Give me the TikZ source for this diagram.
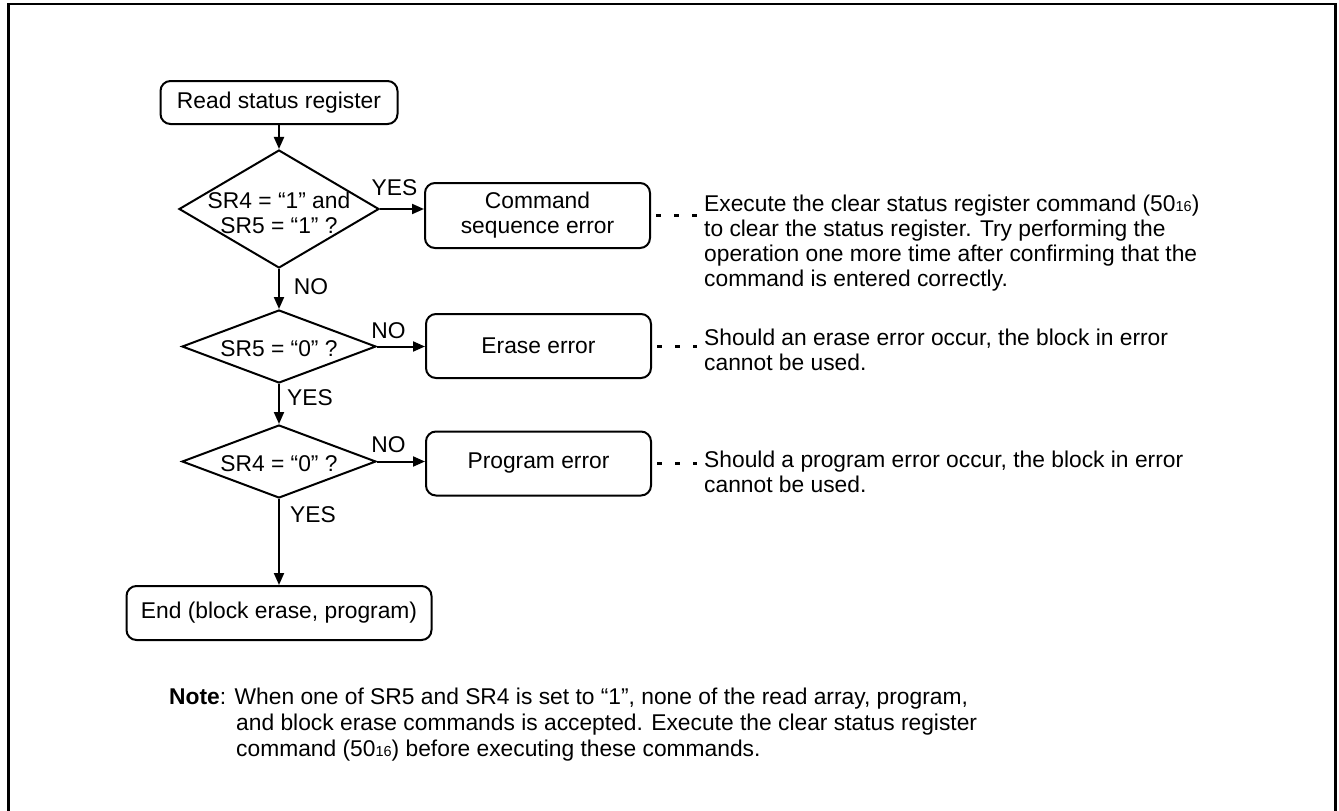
\documentclass[tikz,border=0pt]{standalone}
\usepackage{fontspec}
\setmainfont{Liberation Sans}
\usetikzlibrary{arrows.meta,shapes.geometric}
\newcommand\hexsub[1]{{\fontsize{14.5}{15}\selectfont #1}}
\begin{document}
\begin{tikzpicture}[x=1pt,y=-1pt,
  font=\fontsize{22.8}{25}\selectfont,
  box/.style={draw,line width=2pt,rounded corners=10pt,inner sep=0pt,align=center},
  dia/.style={draw,diamond,line width=2pt,inner sep=0pt},
  flow/.style={line width=2pt,-{Triangle[length=12pt,width=10pt]}},
  dotline/.style={line width=3pt,dash pattern=on 5pt off 13pt},
  lbl/.style={inner sep=0pt},
  ann/.style={inner sep=0pt,align=left,anchor=north west}]
\useasboundingbox (0,0) rectangle (1339,811);
\draw[line width=2.3pt] (8.5,811) -- (8.5,3.7) -- (1335.5,3.7) -- (1335.5,811);

% flow nodes
\node[box,minimum width=237,minimum height=43] (start) at (279,102.5) {Read status register};
\node[dia,minimum width=200,minimum height=118,
  label={[lbl,align=center,yshift=-3.5pt]center:SR4 = “1” and\\SR5 = “1” ?}] (d1) at (279,209) {};
\node[dia,minimum width=194,minimum height=73,
  label={[lbl,yshift=-2pt]center:SR5 = “0” ?}] (d2) at (279,346.5) {};
\node[dia,minimum width=194,minimum height=73,
  label={[lbl,yshift=-2pt]center:SR4 = “0” ?}] (d3) at (279,461.5) {};
\node[box,minimum width=305,minimum height=54] (end) at (279,613) {End (block erase, program)};

\node[box,minimum width=225,minimum height=65] (cmd) at (537.5,215.5) {Command\\sequence error};
\node[box,minimum width=225,minimum height=64] (erase) at (538.5,346) {Erase error};
\node[box,minimum width=225,minimum height=64] (prog) at (538.5,463.5) {Program error};

% branch labels
\node[lbl] (y1) at (394.5,188) {YES};
\node[lbl] (n1) at (311,287) {NO};
\node[lbl] (n2) at (388.5,331) {NO};
\node[lbl] (y2) at (310,398) {YES};
\node[lbl] (n3) at (388.5,445) {NO};
\node[lbl] (y3) at (313,515) {YES};

% annotations
\node[ann] (ann1) at (704,194.6) {Execute the clear status register command (50\hexsub{16})\\to clear the status register. Try performing the\\operation one more time after confirming that the\\command is entered correctly.};
\node[ann] (ann2) at (704,328.5) {Should an erase error occur, the block in error\\cannot be used.};
\node[ann] (ann3) at (704,451) {Should a program error occur, the block in error\\cannot be used.};
\node[ann,font=\fontsize{22.8}{26}\selectfont] (note) at (169,688) {\textbf{Note}: When one of SR5 and SR4 is set to “1”, none of the read array, program,\\\hspace*{67pt}and block erase commands is accepted. Execute the clear status register\\\hspace*{67pt}command (50\hexsub{16}) before executing these commands.};

% connectors
\draw[flow] (start) -- (d1);
\draw[flow] (d1) -- (d2);
\draw[flow] (d2) -- (d3);
\draw[flow] (d3) -- (end);
\draw[flow] (d1.east) -- (d1.east -| cmd.west);
\draw[flow] (d2.east) -- (d2.east -| erase.west);
\draw[flow] (d3.east) -- (d3.east -| prog.west);

\draw[dotline] ([xshift=5pt]cmd.east) -- ([xshift=-7pt]cmd.east -| ann1.west);
\draw[dotline] ([xshift=5pt]erase.east) -- ([xshift=-7pt]erase.east -| ann2.west);
\draw[dotline] ([xshift=5pt]prog.east) -- ([xshift=-7pt]prog.east -| ann3.west);
\end{tikzpicture}
\end{document}
